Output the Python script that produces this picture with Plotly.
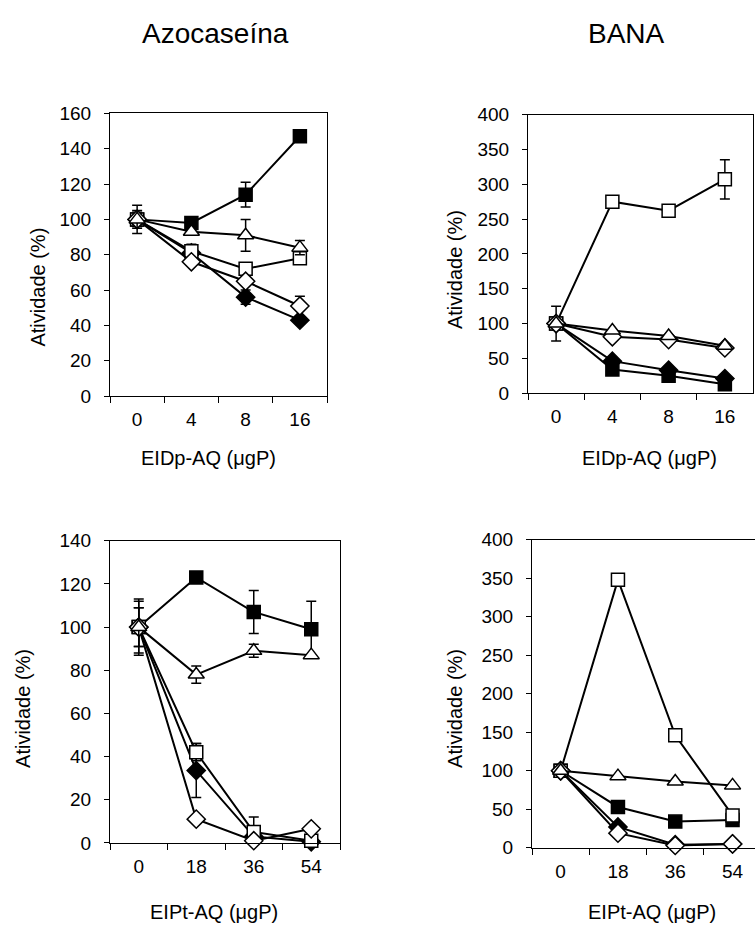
import plotly.graph_objects as go

W, H = 755, 935
FONT = "Liberation Sans, Arial, sans-serif"

# ---------------- data ----------------
x_eidp = ["0", "4", "8", "16"]
x_eipt = ["0", "18", "36", "54"]

# Azocaseína vs EIDp-AQ
azo_eidp_fsq = [100, 98, 114, 147]
azo_eidp_fsq_err = [4, 2, 7, 0]
azo_eidp_osq = [100, 82, 72, 78]
azo_eidp_osq_err = [8, 4, 0, 0]
azo_eidp_fdi = [100, 81, 56, 43]
azo_eidp_fdi_err = [3, 0, 4, 0]
azo_eidp_odi = [100, 76, 65, 51]
azo_eidp_odi_err = [3, 0, 0, 5.5]
azo_eidp_otr = [100, 93, 91, 84]
azo_eidp_otr_err = [5, 2, 9, 4]

# BANA vs EIDp-AQ
bana_eidp_fsq = [100, 34, 25, 13]
bana_eidp_fsq_err = [0, 0, 0, 0]
bana_eidp_osq = [100, 275, 262, 307]
bana_eidp_osq_err = [25, 0, 0, 28]
bana_eidp_fdi = [100, 46, 33, 21]
bana_eidp_fdi_err = [0, 0, 0, 0]
bana_eidp_odi = [100, 81, 77, 65]
bana_eidp_odi_err = [0, 0, 0, 0]
bana_eidp_otr = [100, 90, 82, 68]
bana_eidp_otr_err = [0, 0, 0, 0]

# Azocaseína vs EIPt-AQ
azo_eipt_fsq = [100, 123, 107, 99]
azo_eipt_fsq_err = [13, 0, 10, 13]
azo_eipt_osq = [100, 42, 5, 1]
azo_eipt_osq_err = [12, 4, 7, 0]
azo_eipt_fdi = [100, 33.5, 3, 0.5]
azo_eipt_fdi_err = [9, 12.5, 0, 0]
azo_eipt_odi = [100, 11, 1, 6.5]
azo_eipt_odi_err = [0, 0, 0, 0]
azo_eipt_otr = [100, 78, 89, 87]
azo_eipt_otr_err = [9, 4, 3, 0]

# BANA vs EIPt-AQ
bana_eipt_fsq = [100, 53, 34, 36]
bana_eipt_fsq_err = [0, 0, 0, 0]
bana_eipt_osq = [100, 348, 146, 42]
bana_eipt_osq_err = [0, 0, 0, 0]
bana_eipt_fdi = [100, 27, 4, 5]
bana_eipt_fdi_err = [0, 0, 0, 0]
bana_eipt_odi = [100, 19, 3, 5]
bana_eipt_odi_err = [0, 0, 0, 0]
bana_eipt_otr = [100, 93, 86, 81]
bana_eipt_otr_err = [0, 0, 0, 0]

titles = ["Azocaseína", "BANA"]
x_titles = ["EIDp-AQ (μgP)", "EIPt-AQ (μgP)"]
y_title = "Atividade (%)"

# ---------------- figure ----------------
fig = go.Figure()

styles = {
    "fsq": dict(symbol="square", color="black", size=13),
    "osq": dict(symbol="square", color="white", size=13),
    "fdi": dict(symbol="diamond", color="black", size=14),
    "odi": dict(symbol="diamond", color="white", size=14),
    "otr": dict(symbol="triangle-up", color="white", size=14),
}


def add_panel(idx, x, series):
    xa = "x" if idx == 1 else f"x{idx}"
    ya = "y" if idx == 1 else f"y{idx}"
    for key, (vals, errs) in series:
        st = styles[key]
        fig.add_trace(go.Scatter(
            x=x, y=vals, xaxis=xa, yaxis=ya, mode="lines+markers",
            line=dict(color="black", width=2),
            marker=dict(symbol=st["symbol"], color=st["color"], size=st["size"],
                        line=dict(color="black", width=1.5)),
            error_y=dict(type="data", array=errs, visible=True, color="black",
                         thickness=1.5, width=5),
            showlegend=False, cliponaxis=False,
        ))


order = ["fdi", "fsq", "osq", "odi", "otr"]
add_panel(1, x_eidp, list(zip(order, [
    (azo_eidp_fdi, azo_eidp_fdi_err), (azo_eidp_fsq, azo_eidp_fsq_err),
    (azo_eidp_osq, azo_eidp_osq_err), (azo_eidp_odi, azo_eidp_odi_err),
    (azo_eidp_otr, azo_eidp_otr_err)])))
add_panel(2, x_eidp, list(zip(order, [
    (bana_eidp_fdi, bana_eidp_fdi_err), (bana_eidp_fsq, bana_eidp_fsq_err),
    (bana_eidp_osq, bana_eidp_osq_err), (bana_eidp_odi, bana_eidp_odi_err),
    (bana_eidp_otr, bana_eidp_otr_err)])))
add_panel(3, x_eipt, list(zip(order, [
    (azo_eipt_fdi, azo_eipt_fdi_err), (azo_eipt_fsq, azo_eipt_fsq_err),
    (azo_eipt_osq, azo_eipt_osq_err), (azo_eipt_odi, azo_eipt_odi_err),
    (azo_eipt_otr, azo_eipt_otr_err)])))
add_panel(4, x_eipt, list(zip(order, [
    (bana_eipt_fdi, bana_eipt_fdi_err), (bana_eipt_fsq, bana_eipt_fsq_err),
    (bana_eipt_osq, bana_eipt_osq_err), (bana_eipt_odi, bana_eipt_odi_err),
    (bana_eipt_otr, bana_eipt_otr_err)])))


def px_x(p):
    return p / W


def px_y(p):
    return 1 - p / H


# panel pixel boxes: (left, right, top, bottom)
boxes = {
    1: (110, 327, 105.7, 395),
    2: (528, 753, 107, 392),
    3: (110, 340, 543, 852),
    4: (532, 755, 542, 857),
}
yranges = {1: (0, 160, 20), 2: (0, 400, 50), 3: (0, 140, 20), 4: (0, 400, 50)}

layout_axes = {}
for i in range(1, 5):
    l, r, t, b = boxes[i]
    xr = [-0.5, 3.5]
    if i == 4:
        xr = [-0.5, -0.5 + (r - l) / 57.3]
    xkey = "xaxis" if i == 1 else f"xaxis{i}"
    ykey = "yaxis" if i == 1 else f"yaxis{i}"
    yanchor = "y" if i == 1 else f"y{i}"
    xanchor = "x" if i == 1 else f"x{i}"
    layout_axes[xkey] = dict(
        domain=[px_x(l), px_x(r)], anchor=yanchor, type="category",
        range=xr, tickson="boundaries", ticks="outside", ticklen=6,
        tickwidth=1, tickcolor="black", showline=True, linecolor="black",
        linewidth=1, mirror=True, showgrid=False, zeroline=False,
        ticklabelstandoff=6,
        tickfont=dict(family=FONT, size=19, color="black"),
    )
    y0, y1, dt = yranges[i]
    layout_axes[ykey] = dict(
        domain=[px_y(b), px_y(t)], anchor=xanchor, range=[y0, y1], dtick=dt,
        ticks="outside", ticklen=5, tickwidth=1, tickcolor="black",
        showline=True, linecolor="black", linewidth=1,
        mirror=(i != 4), showgrid=False, zeroline=False,
        ticklabelstandoff=9,
        tickfont=dict(family=FONT, size=19, color="black"),
    )

annotations = []
# panel titles
for txt, cx in zip(titles, [215, 626]):
    annotations.append(dict(text=txt, x=px_x(cx), y=px_y(24), xref="paper",
                            yref="paper", showarrow=False, xanchor="center",
                            yanchor="middle",
                            font=dict(family=FONT, size=28, color="black")))
# x titles
for txt, cx, cy in [(x_titles[0], 208, 458), (x_titles[0], 649, 458),
                    (x_titles[1], 214, 923), (x_titles[1], 652, 923)]:
    annotations.append(dict(text=txt, x=px_x(cx), y=px_y(cy), xref="paper",
                            yref="paper", showarrow=False, xanchor="center",
                            yanchor="middle",
                            font=dict(family=FONT, size=20, color="black")))
# y titles
for cx, cy in [(38, 284), (455, 266), (23, 715), (455, 715)]:
    annotations.append(dict(text=y_title, x=px_x(cx), y=px_y(cy), xref="paper",
                            yref="paper", showarrow=False, xanchor="center",
                            yanchor="middle", textangle=-90,
                            font=dict(family=FONT, size=20, color="black")))

fig.update_layout(
    width=W, height=H, margin=dict(l=0, r=0, t=0, b=0),
    paper_bgcolor="white", plot_bgcolor="white",
    annotations=annotations, **layout_axes,
)

fig.write_html("out.html")
